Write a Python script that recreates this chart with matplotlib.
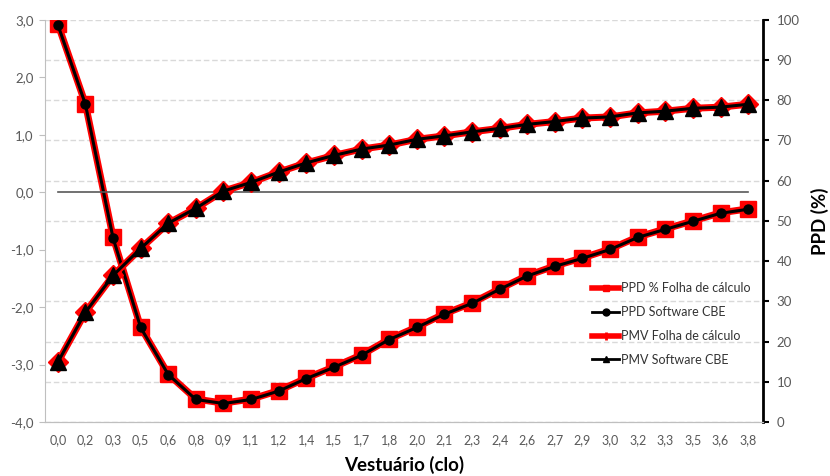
import matplotlib.pyplot as plt
from matplotlib.lines import Line2D

plt.rcParams['font.family'] = ['Lato', 'DejaVu Sans']

# clo values shown on the category axis
clo_labels = ["0,0", "0,2", "0,3", "0,5", "0,6", "0,8", "0,9", "1,1", "1,2", "1,4",
              "1,5", "1,7", "1,8", "2,0", "2,1", "2,3", "2,4", "2,6", "2,7", "2,9",
              "3,0", "3,2", "3,3", "3,5", "3,6", "3,8"]

ppd_folha = [99.0, 79.1, 46.0, 23.6, 11.9, 5.7, 4.7, 5.7, 7.8, 10.9,
             13.7, 16.7, 20.6, 23.6, 26.9, 29.6, 33.1, 36.4, 38.8, 40.8,
             43.0, 46.0, 48.0, 50.0, 52.0, 53.0]
ppd_cbe = [98.8, 79.0, 45.8, 23.5, 11.8, 5.6, 4.6, 5.6, 7.7, 10.8,
           13.6, 16.6, 20.5, 23.5, 26.8, 29.5, 33.0, 36.3, 38.7, 40.7,
           42.9, 45.9, 47.9, 49.9, 51.9, 52.9]

pmv_folha = [-2.96, -2.09, -1.45, -0.98, -0.54, -0.28, 0.02, 0.17, 0.35, 0.51,
             0.64, 0.75, 0.82, 0.92, 0.98, 1.05, 1.11, 1.18, 1.23, 1.29,
             1.31, 1.38, 1.41, 1.46, 1.48, 1.53]
pmv_cbe = [-2.96, -2.09, -1.45, -0.98, -0.54, -0.28, 0.02, 0.17, 0.35, 0.51,
           0.64, 0.75, 0.82, 0.92, 0.98, 1.05, 1.11, 1.18, 1.23, 1.29,
           1.31, 1.38, 1.41, 1.46, 1.48, 1.53]

pmv_ticks = [-4, -3, -2, -1, 0, 1, 2, 3]
pmv_ticklabels = ["-4,0", "-3,0", "-2,0", "-1,0", "0,0", "1,0", "2,0", "3,0"]
ppd_ticks = [0, 10, 20, 30, 40, 50, 60, 70, 80, 90, 100]

x = list(range(len(clo_labels)))
grey = "#595959"

fig = plt.figure(figsize=(8.3, 4.76), dpi=100)
ax = fig.add_axes([0.054, 0.1134, 0.865, 0.845])
ax2 = ax.twinx()
ax.set_zorder(ax2.get_zorder() + 1)
ax.patch.set_visible(False)

# PPD on right axis
ax2.plot(x, ppd_folha, color="red", lw=5, marker="s", ms=11, zorder=2)
ax2.plot(x, ppd_cbe, color="black", lw=2.2, marker="o", ms=6.5, zorder=3)
ax2.set_ylim(0, 100)
ax2.set_yticks(ppd_ticks)
ax2.grid(axis="y", color="#d9d9d9", ls=(0, (4, 2)), lw=1)
ax2.set_axisbelow(True)

# PMV on left axis
ax.plot(x, [0] * len(x), color=grey, lw=1.2, zorder=1)
ax.plot(x, pmv_folha, color="red", lw=5, marker="D", ms=10, zorder=2)
ax.plot(x, pmv_cbe, color="black", lw=2.2, marker="^", ms=11, zorder=3)
ax.set_ylim(-4, 3)
ax.set_yticks(pmv_ticks)
ax.set_yticklabels(pmv_ticklabels)
ax.set_xlim(-0.47, 25.53)
ax.set_xticks(x)
ax.set_xticklabels(clo_labels)

for a in (ax, ax2):
    a.spines["top"].set_visible(False)
    a.spines["left"].set_color("#bfbfbf")
    a.spines["bottom"].set_color("#bfbfbf")
    a.spines["right"].set_visible(False)
ax2.spines["right"].set_visible(True)
ax2.spines["right"].set_color("black")
ax2.spines["right"].set_linewidth(2)
ax2.spines["left"].set_visible(False)

ax.tick_params(axis="y", colors="#bfbfbf", labelcolor=grey, labelsize=9.5, length=4, pad=4)
ax.tick_params(axis="x", length=0, labelcolor=grey, labelsize=9, pad=9)
ax2.tick_params(axis="y", colors="black", labelcolor=grey, labelsize=9.5, length=4, width=1.5, pad=6)

ax.set_xlabel("Vestuário (clo)", fontsize=13.5, fontweight="bold", labelpad=7)
ax2.set_ylabel("PPD (%)", fontsize=13.5, fontweight="bold", labelpad=8)

handles = [
    Line2D([], [], color="red", lw=4, marker="s", ms=5),
    Line2D([], [], color="black", lw=2, marker="o", ms=5),
    Line2D([], [], color="red", lw=4, marker="+", ms=6, mew=2),
    Line2D([], [], color="black", lw=2, marker="^", ms=5),
]
labels = ["PPD % Folha de cálculo", "PPD Software CBE",
          "PMV Folha de cálculo", "PMV Software CBE"]
ax.legend(handles, labels, loc="upper left", bbox_to_anchor=(0.755, 0.36),
          frameon=False, fontsize=9, labelcolor="#333333", handlelength=2.2,
          handletextpad=0.1, labelspacing=0.95, borderaxespad=0)

fig.savefig("out.png", dpi=100)
